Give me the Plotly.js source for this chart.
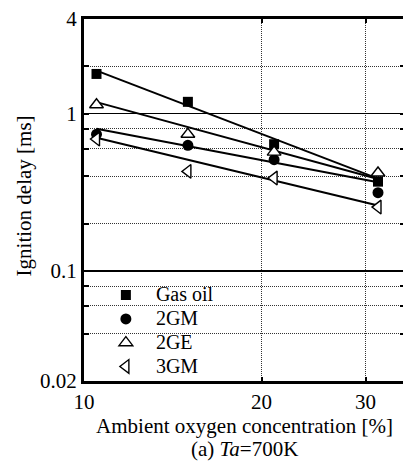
<!DOCTYPE html>
<html>
<head>
<meta charset="utf-8">
<script src="https://cdn.plot.ly/plotly-3.0.1.min.js"></script>
<style>
html,body{margin:0;padding:0;overflow:hidden;background:#fff;}
#chart{width:405px;height:462px;}
</style>
</head>
<body>
<div id="chart"></div>
<script>
// Data
var oxygen = [10.5, 15, 21, 31.5];
var gasOil = [1.79, 1.19, 0.64, 0.37];
var gm2 = [0.74, 0.63, 0.51, 0.315];
var ge2 = [1.14, 0.74, 0.57, 0.42];
var gm3 = [0.69, 0.43, 0.39, 0.255];

// Fitted (regression) line end points
var fitX = [10.5, 31.5];
var gasOilFit = [1.88, 0.387];
var ge2Fit = [1.185, 0.385];
var gm2Fit = [0.802, 0.367];
var gm3Fit = [0.703, 0.261];

var seriesNames = ['Gas oil', '2GM', '2GE', '3GM'];

var yMajorTicks = [4, 1, 0.1, 0.02];
var yMajorText = ['4', '1', '0.1', '0.02'];
var yMinorTicks = [2, 0.8, 0.6, 0.4, 0.2, 0.08, 0.06, 0.04];
var xTicks = [10, 20, 30];
var xTickText = ['10', '20', '30'];

var FONT = 'Liberation Serif, Times New Roman, serif';
var DOT = '1px,1px';

function fitTrace(y) {
  return {x: fitX, y: y, mode: 'lines', type: 'scatter', showlegend: false,
          hoverinfo: 'skip', line: {color: '#000', width: 2}};
}
function markTrace(name, y, symbol, filled, size) {
  return {x: oxygen, y: y, mode: 'markers', type: 'scatter',
          name: '<span style="font-size:20px">' + name + '</span>',
          marker: {symbol: symbol, size: size, color: filled ? '#000' : '#fff',
                   line: {color: '#000', width: filled ? 0 : 1.4}}};
}

var data = [
  fitTrace(gasOilFit), fitTrace(ge2Fit), fitTrace(gm2Fit), fitTrace(gm3Fit),
  markTrace(seriesNames[0], gasOil, 'square', true, 10),
  markTrace(seriesNames[1], gm2, 'circle', true, 11),
  markTrace(seriesNames[2], ge2, 'triangle-up', false, 12),
  markTrace(seriesNames[3], gm3, 'triangle-left', false, 12)
];

var layout = {
  width: 405, height: 462,
  margin: {l: 84, r: 0, t: 19, b: 81},
  paper_bgcolor: '#fff', plot_bgcolor: '#fff',
  font: {family: FONT, size: 21, color: '#000'},
  showlegend: true,
  legend: {x: 0.037, y: 0.284, xanchor: 'left', yanchor: 'top',
           bgcolor: 'rgba(0,0,0,0)', borderwidth: 0, itemwidth: 50,
           font: {family: FONT, size: 16, color: '#000'},
           traceorder: 'normal'},
  xaxis: {type: 'log', range: [Math.log10(10), Math.log10(35)],
          tickmode: 'array', tickvals: xTicks, ticktext: xTickText,
          ticks: 'inside', ticklen: 4, tickwidth: 2, tickcolor: '#000',
          showline: true, linewidth: 3, linecolor: '#000', mirror: 'ticks',
          showgrid: true, gridcolor: '#333', gridwidth: 1, griddash: DOT,
          zeroline: false, tickfont: {family: FONT, size: 21},
          title: {text: 'Ambient oxygen concentration [%]', font: {family: FONT, size: 21}, standoff: 0}},
  yaxis: {type: 'log', range: [Math.log10(0.02), Math.log10(4)],
          tickmode: 'array', tickvals: yMajorTicks, ticktext: yMajorText,
          ticks: 'inside', ticklen: 5, tickwidth: 2, tickcolor: '#000',
          showline: true, linewidth: 3, linecolor: '#000', mirror: 'ticks',
          showgrid: true, gridcolor: '#000', gridwidth: 1.5,
          minor: {tickvals: yMinorTicks, ticks: 'inside', ticklen: 5, tickwidth: 2, tickcolor: '#000',
                  showgrid: true, gridcolor: '#333', gridwidth: 1, griddash: DOT},
          zeroline: false, tickfont: {family: FONT, size: 21}},
  annotations: [
    {text: 'Ignition delay [ms]', textangle: -90, xref: 'paper', yref: 'paper',
     x: 0, y: 0.51, xanchor: 'center', yanchor: 'middle', xshift: -60,
     showarrow: false, font: {family: FONT, size: 21}},
    {text: '(a) <i>Ta</i>=700K', xref: 'paper', yref: 'paper', x: 0.5, y: 0,
     xanchor: 'center', yanchor: 'middle', yshift: -68,
     showarrow: false, font: {family: FONT, size: 21}}
  ]
};

Plotly.newPlot('chart', data, layout, {displayModeBar: false, staticPlot: true});
</script>
</body>
</html>
